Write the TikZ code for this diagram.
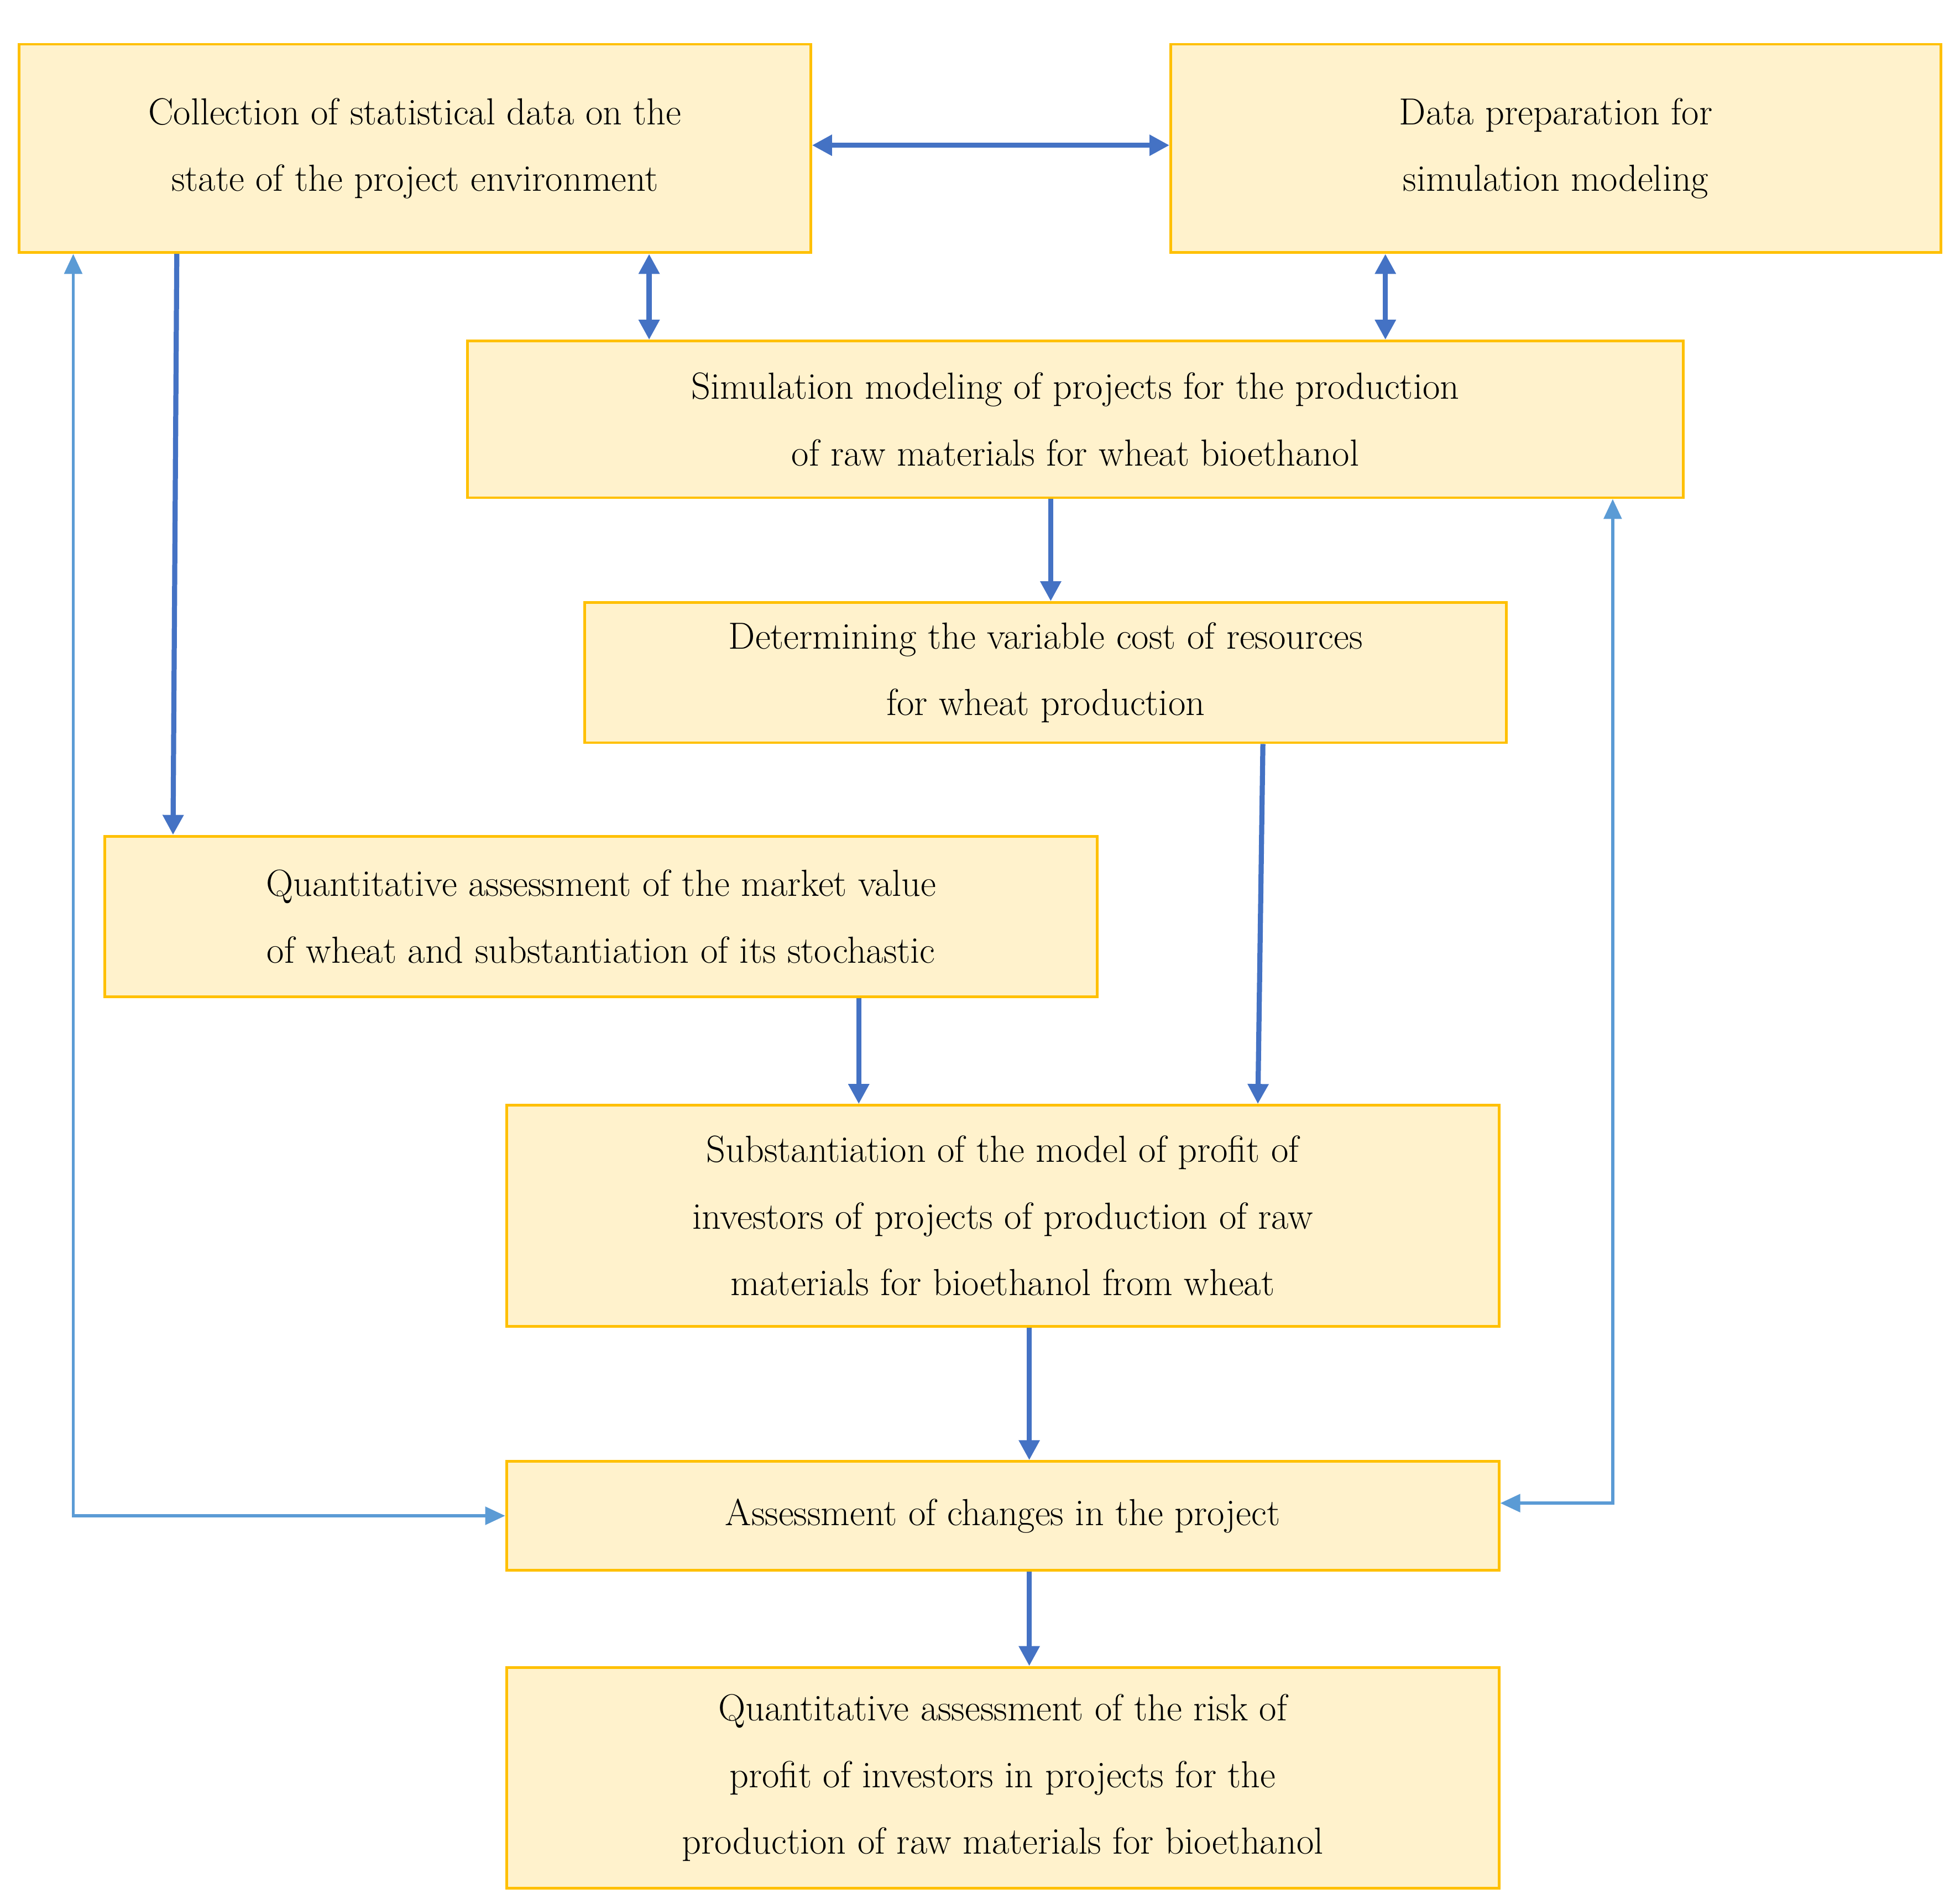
\documentclass[tikz,border=0pt]{standalone}
\usetikzlibrary{arrows.meta}
\definecolor{boxfill}{HTML}{FFF2CC}
\definecolor{boxline}{HTML}{FFC000}
\definecolor{dblue}{HTML}{4472C4}
\definecolor{lblue}{HTML}{5B9BD5}
\begin{document}
\begin{tikzpicture}[x=0.02cm,y=-0.02cm,
  box/.style={draw=boxline,fill=boxfill,line width=1.2pt,align=center,inner sep=0pt,
    font=\fontsize{17}{30}\selectfont},
  dk/.style={draw=dblue,line width=2.3pt,-{Triangle[length=9pt,width=9pt]}},
  dkk/.style={dk,{Triangle[length=9pt,width=9pt]}-{Triangle[length=9pt,width=9pt]}},
  lt/.style={draw=lblue,line width=1.4pt,{Triangle[length=9pt,width=8pt]}-{Triangle[length=9pt,width=8pt]}}]
\useasboundingbox[fill=white] (0,0) rectangle (1552,1503);
\node[box,minimum width=12.54cm,minimum height=3.3cm] (A) at (328.5,117.5) {Collection of statistical data on the\\state of the project environment};
\node[box,minimum width=12.2cm,minimum height=3.3cm] (B) at (1232,117.5) {Data preparation for\\simulation modeling};
\node[box,minimum width=19.26cm,minimum height=2.48cm] (C) at (851.5,332) {Simulation modeling of projects for the production\\of raw materials for wheat bioethanol};
\node[box,minimum width=14.6cm,minimum height=2.22cm] (D) at (828,532.5) {Determining the variable cost of resources\\for wheat production};
\node[box,minimum width=15.72cm,minimum height=2.54cm] (E) at (476,725.5) {Quantitative assessment of the market value\\of wheat and substantiation of its stochastic};
\node[box,minimum width=15.72cm,minimum height=3.5cm] (F) at (794,962.5) {Substantiation of the model of profit of\\investors of projects of production of raw\\materials for bioethanol from wheat};
\node[box,minimum width=15.72cm,minimum height=1.72cm] (G) at (794,1200) {Assessment of changes in the project};
\node[box,minimum width=15.72cm,minimum height=3.5cm] (H) at (794,1407.5) {Quantitative assessment of the risk of\\profit of investors in projects for the\\production of raw materials for bioethanol};
\coordinate (y115) at (0,115);
\coordinate (x514) at (514,0);
\coordinate (x1097) at (1097,0);
\coordinate (x140) at (140,0);
\coordinate (x137) at (137,0);
\coordinate (x832) at (832,0);
\coordinate (x1000) at (1000,0);
\coordinate (x996) at (996,0);
\coordinate (x680) at (680,0);
\coordinate (x815) at (815,0);
\coordinate (y1200) at (0,1200);
\coordinate (y1190) at (0,1190);
\coordinate (L) at (58,1200);
\coordinate (R) at (1277,1190);
\draw[dkk] (A.east |- y115) -- (B.west |- y115);
\draw[dkk] (A.south -| x514) -- (C.north -| x514);
\draw[dkk] (B.south -| x1097) -- (C.north -| x1097);
\draw[dk] (A.south -| x140) -- (E.north -| x137);
\draw[dk] (C.south -| x832) -- (D.north -| x832);
\draw[dk] (D.south -| x1000) -- (F.north -| x996);
\draw[dk] (E.south -| x680) -- (F.north -| x680);
\draw[dk] (F.south -| x815) -- (G.north -| x815);
\draw[dk] (G.south -| x815) -- (H.north -| x815);
\draw[lt] (G.west |- y1200) -- (L) -- (A.south -| L);
\draw[lt] (G.east |- y1190) -- (R) -- (C.south -| R);
\end{tikzpicture}
\end{document}
